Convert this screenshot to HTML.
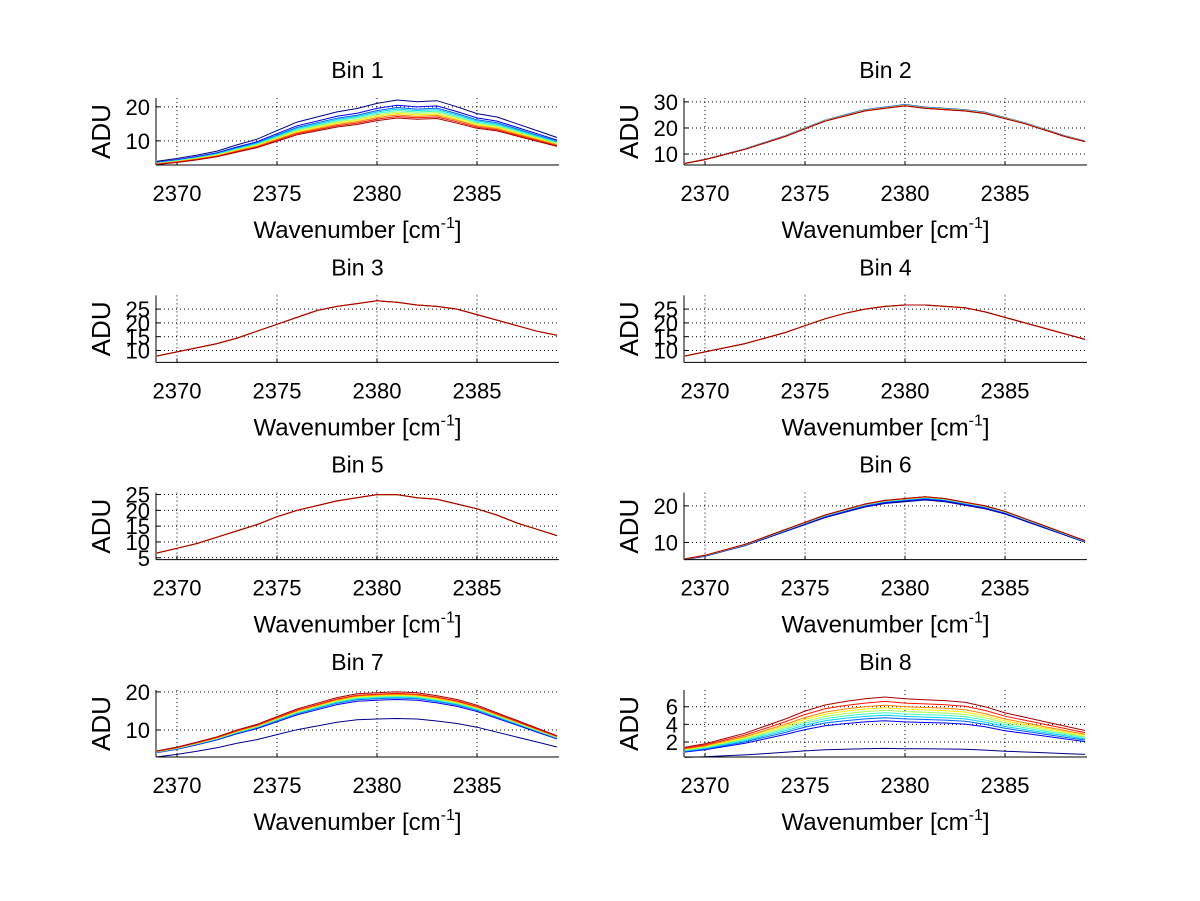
<!DOCTYPE html>
<html><head><meta charset="utf-8"><style>
html,body{margin:0;padding:0;background:#fff;}
svg{display:block;font-family:"Liberation Sans",sans-serif;}
</style></head><body>
<svg id="fig" width="1200" height="901" viewBox="0 0 1200 901"></svg>
<script>
// Data (wavenumber at 1 cm^-1 steps, upper envelope profile per bin)
const wavenumbers = [2369,2370,2371,2372,2373,2374,2375,2376,2377,2378,2379,2380,2381,2382,2383,2384,2385,2386,2387,2388,2389];
const xTicks = [2370,2375,2380,2385];
const bin1Profile = [4,4.8,5.8,7,8.8,10.5,13,15.5,17,18.5,19.5,21,22,21.5,21.8,20,18,17,15,13,11];
const bin2Profile = [6.5,8,10,12,14.5,17,20,23,25,27,28,29,28,27.5,27,26,24,22,19.5,17,15];
const bin3Profile = [8,9.5,11,12.5,14.5,17,19.5,22,24.5,26,27,28,27.5,26.5,26,25,23,21,19,17,15.5];
const bin4Profile = [8,9.5,11,12.5,14.5,16.5,19,21.5,23.5,25,26,26.5,26.5,26,25.5,24,22,20,18,16,14];
const bin5Profile = [6.5,8,9.5,11.5,13.5,15.5,18,20,21.5,23,24,25,25,24,23.5,22,20.5,18.5,16,14,12];
const bin6Profile = [5.5,6.5,8,9.5,11.5,13.5,15.5,17.5,19,20.5,21.5,22,22.5,22,21,20,18.5,16.5,14.5,12.5,10.5];
const bin7Profile = [4.5,5.5,6.8,8.2,10,11.5,13.5,15.5,17,18.5,19.5,19.8,20,19.8,19,18,16.5,14.5,12.5,10.5,8.5];
const bin8Profile = [1.4,1.8,2.4,3,3.8,4.6,5.5,6.2,6.6,6.9,7.1,6.9,6.8,6.7,6.5,6,5.3,4.8,4.3,3.8,3.3];
// per-series scale factors (10 series, jet colours dark blue -> dark red)
const bin1Scales = [1,0.93,0.9,0.88,0.86,0.84,0.82,0.8,0.78,0.76];
const bin2Scales = [1,0.998,0.996,0.994,0.992,0.99,0.988,0.986,0.984,0.982];
const bin3Scales = [1,1,1,1,1,1,1,1,1,1];
const bin4Scales = [1,1,1,1,1,1,1,1,1,1];
const bin5Scales = [1,1,1,1,1,1,1,1,1,1];
const bin6Scales = [0.96,0.97,0.98,0.985,0.99,0.993,0.995,0.997,0.999,1];
const bin7Scales = [0.65,0.9,0.92,0.93,0.94,0.95,0.96,0.97,0.98,1];
const bin8Scales = [0.18,0.62,0.67,0.71,0.75,0.79,0.83,0.87,0.93,1];
const bin1Ticks=[10,20], bin2Ticks=[10,20,30], bin3Ticks=[10,15,20,25], bin4Ticks=[10,15,20,25];
const bin5Ticks=[5,10,15,20,25], bin6Ticks=[10,20], bin7Ticks=[10,20], bin8Ticks=[2,4,6];

const panels = [
 {t:'Bin 1',p:bin1Profile,s:bin1Scales,yt:bin1Ticks,y0:2.9,y1:22.6,col:0,row:0},
 {t:'Bin 2',p:bin2Profile,s:bin2Scales,yt:bin2Ticks,y0:5.8,y1:31.5,col:1,row:0},
 {t:'Bin 3',p:bin3Profile,s:bin3Scales,yt:bin3Ticks,y0:5.7,y1:30,col:0,row:1},
 {t:'Bin 4',p:bin4Profile,s:bin4Scales,yt:bin4Ticks,y0:5.7,y1:30,col:1,row:1},
 {t:'Bin 5',p:bin5Profile,s:bin5Scales,yt:bin5Ticks,y0:4.4,y1:25.6,col:0,row:2},
 {t:'Bin 6',p:bin6Profile,s:bin6Scales,yt:bin6Ticks,y0:5.3,y1:23.6,col:1,row:2},
 {t:'Bin 7',p:bin7Profile,s:bin7Scales,yt:bin7Ticks,y0:2.9,y1:20.5,col:0,row:3},
 {t:'Bin 8',p:bin8Profile,s:bin8Scales,yt:bin8Ticks,y0:0.3,y1:7.9,col:1,row:3}
];
const NS='http://www.w3.org/2000/svg';
const svg=document.getElementById('fig');
function mk(tag,attrs,parent){const e=document.createElementNS(NS,tag);for(const k in attrs)e.setAttribute(k,attrs[k]);(parent||svg).appendChild(e);return e;}
function jet(v){const r=Math.min(Math.max(Math.min(4*v-1.5,-4*v+4.5),0),1);const g=Math.min(Math.max(Math.min(4*v-0.5,-4*v+3.5),0),1);const b=Math.min(Math.max(Math.min(4*v+0.5,-4*v+2.5),0),1);return `rgb(${Math.round(r*255)},${Math.round(g*255)},${Math.round(b*255)})`;}
const XMIN=2368.95, XMAX=2389.1, W=403, H=67;
panels.forEach((P,pi)=>{
 const L=156+P.col*528, T=98+P.row*197.33, B=T+H;
 const g=mk('g',{});
 
 
 const xs=v=>L+(v-XMIN)/(XMAX-XMIN)*W;
 const ys=v=>B-(v-P.y0)/(P.y1-P.y0)*H;
 xTicks.forEach(t=>{const l=mk('line',{x1:xs(t),x2:xs(t),y1:T,y2:B,stroke:'#000','stroke-width':1,'stroke-dasharray':'1,3'},g);
  mk('line',{x1:xs(t),x2:xs(t),y1:B,y2:B-4,stroke:'#000'},g);
  const tx=mk('text',{x:xs(t),y:B+36,'font-size':22,'text-anchor':'middle'},g);tx.textContent=t;});
 P.yt.forEach(t=>{const l=mk('line',{x1:L,x2:L+W,y1:ys(t),y2:ys(t),stroke:'#000','stroke-width':1,'stroke-dasharray':'1,3'},g);
  mk('line',{x1:L,x2:L+4,y1:ys(t),y2:ys(t),stroke:'#000'},g);
  const tx=mk('text',{x:L-6,y:ys(t)+8,'font-size':22,'text-anchor':'end'},g);tx.textContent=t;});
 P.s.forEach((sc,si)=>{
  const pts=wavenumbers.map((w,i)=>xs(w).toFixed(1)+','+ys(P.p[i]*sc).toFixed(1)).join(' ');
  const pl=mk('polyline',{points:pts,fill:'none',stroke:jet(si/9*0.95+0.01),'stroke-width':1},g);
  
  
 });
 mk('line',{x1:L,x2:L,y1:T,y2:B,stroke:'#000'},g);
 mk('line',{x1:L,x2:L+W,y1:B,y2:B,stroke:'#000'},g);
 const ti=mk('text',{x:L+W/2,y:T-20,'font-size':23,'text-anchor':'middle'},g);ti.textContent=P.t;
 
 const xl=mk('text',{x:L+W/2,y:B+73,'font-size':24,'text-anchor':'middle'},g);
 xl.innerHTML='Wavenumber [cm<tspan dy="-10" font-size="16">-1</tspan><tspan dy="10">]</tspan>';
 
 const yl=mk('text',{x:0,y:0,'font-size':26,'text-anchor':'middle',transform:`translate(${L-46},${T+H/2}) rotate(-90)`},g);yl.textContent='ADU';
 
});
</script>
</body></html>
